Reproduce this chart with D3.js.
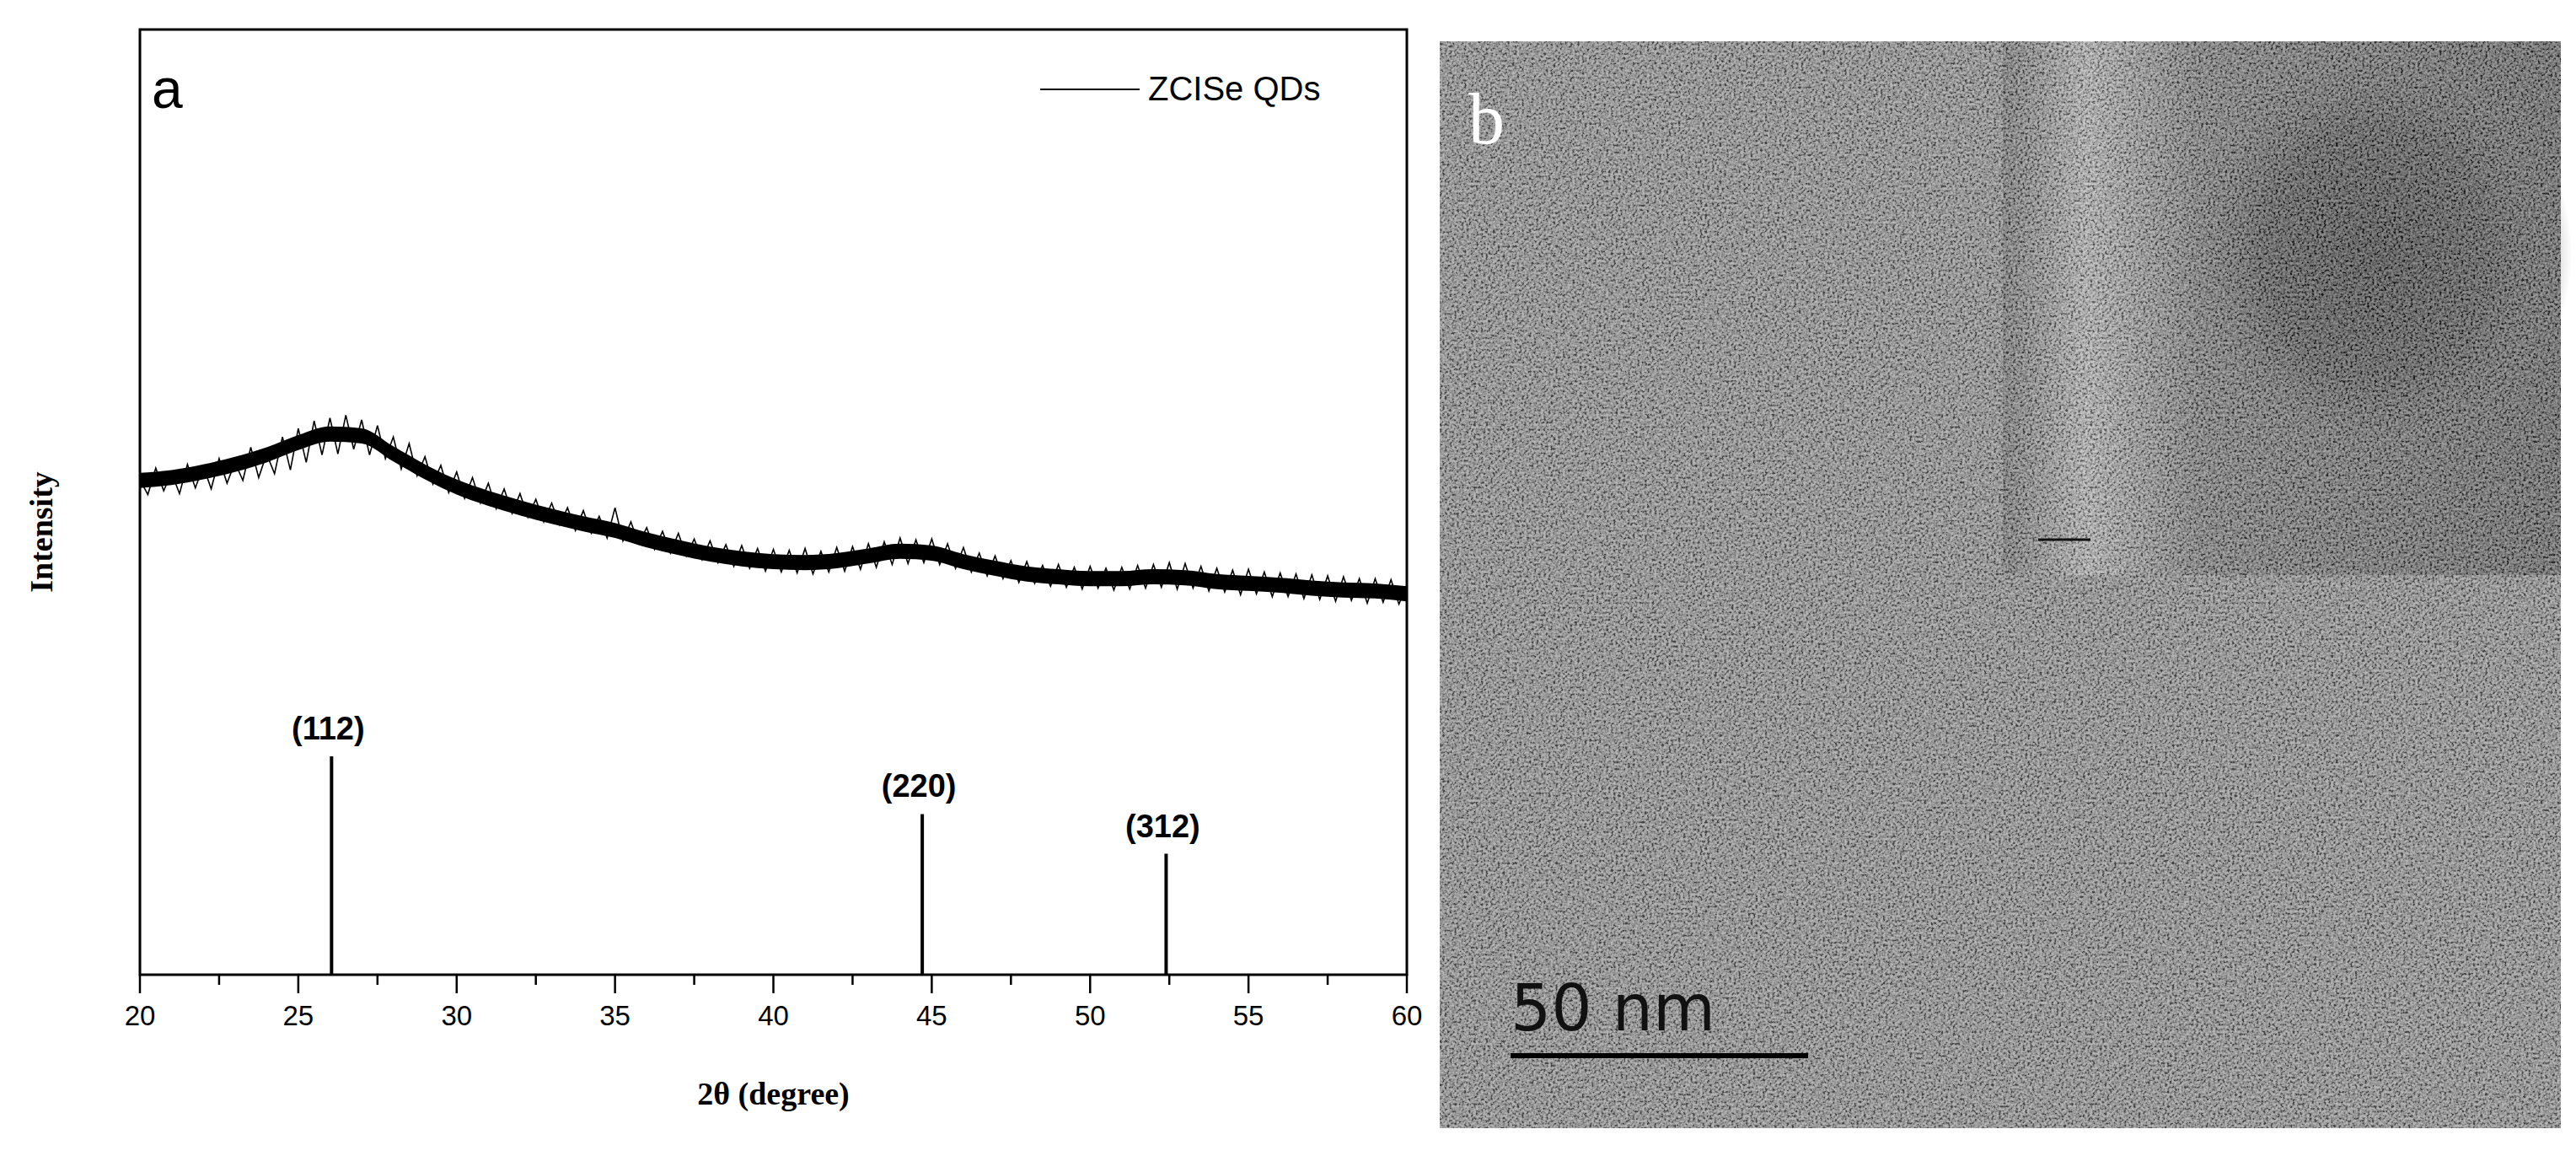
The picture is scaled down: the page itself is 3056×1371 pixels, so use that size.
<!DOCTYPE html>
<html><head><meta charset="utf-8">
<script src="https://cdn.jsdelivr.net/npm/d3@7"></script>
<style>body{margin:0;background:#fff}</style></head>
<body><svg id="c" width="3056" height="1371"></svg>
<script>
const xStart = 20, xStep = 0.25;
const intensity = [
52.4,50.8,53.6,51.2, 53.1,50.9,54.0,51.5, 53.8,51.4,54.6,52.0, 54.2,52.3,55.8,52.6,
55.1,53.0,56.9,53.4, 57.8,54.2,58.6,55.0, 58.9,55.1,59.2,55.6, 58.7,55.0,58.1,54.6,
56.9,53.5,56.2,52.8, 54.8,51.9,53.9,51.0, 53.2,50.4,52.6,49.9, 52.0,49.3,51.4,48.8,
50.9,48.4,50.3,47.9, 49.9,47.6,49.4,47.0, 49.1,46.7,48.5,46.2, 49.4,45.9,47.9,45.6,
47.3,45.0,46.9,44.6, 46.7,44.3,46.1,43.9, 45.9,43.6,45.5,43.2, 45.4,43.0,45.1,42.7,
45.0,42.6,44.9,42.5, 45.1,42.4,44.8,42.6, 45.2,42.7,45.3,42.9, 45.6,43.1,45.8,43.4,
46.2,43.5,46.0,43.6, 46.1,43.4,45.6,43.0, 45.2,42.6,44.6,42.2, 44.3,41.9,43.8,41.5,
43.7,41.4,43.3,41.1, 43.4,41.0,43.1,40.8, 43.2,40.9,43.0,40.7, 43.1,40.8,43.3,40.9,
43.4,41.0,43.6,40.8, 43.5,40.9,43.2,40.6, 43.0,40.5,42.8,40.2, 42.9,40.3,42.6,40.0,
42.5,40.0,42.4,39.8, 42.3,39.7,42.2,39.5, 42.1,39.6,41.9,39.3, 41.9,39.4,41.8,39.2,
41.2];
// dense noise band envelope, one value per degree 20..60
const bandUpper = [53.1,53.4,54.0,54.8,55.8,57.1,58.0,57.8,55.9,54.0,52.4,51.2,50.2,49.3,48.5,47.8,46.8,46.0,45.3,44.8,44.5,44.4,44.6,45.1,45.6,45.4,44.5,43.8,43.2,42.9,42.7,42.7,42.9,42.8,42.4,42.2,42.0,41.7,41.5,41.4,41.1];
const bandLower = [51.5,51.8,52.4,53.2,54.2,55.5,56.4,56.2,54.3,52.4,50.8,49.6,48.6,47.7,46.9,46.2,45.2,44.4,43.7,43.2,42.9,42.8,43.0,43.5,44.0,43.8,42.9,42.2,41.6,41.3,41.1,41.1,41.3,41.2,40.8,40.6,40.4,40.1,39.9,39.8,39.5];
const refPos = [26.05, 44.7, 52.4];
const refHeight = [23.1, 17.0, 12.8];
const refLabels = ["(112)", "(220)", "(312)"];
const xTicks = [20,25,30,35,40,45,50,55,60];

const svg = d3.select("#c");
const L=166,R=1669,T=35,B=1156;
const x = d3.scaleLinear().domain([20,60]).range([L,R]);
const y = d3.scaleLinear().domain([0,100]).range([B,T]);

svg.append("path").datum(bandUpper.map((u,i)=>({x:20+i,u:u,l:bandLower[i]})))
  .attr("fill","#000").attr("d", d3.area().curve(d3.curveMonotoneX).x(d=>x(d.x)).y0(d=>y(d.l)).y1(d=>y(d.u)));
const pts = intensity.map((v,i)=>[xStart+i*xStep, v]);
svg.append("path").datum(pts).attr("fill","none").attr("stroke","#000").attr("stroke-width",1.6)
  .attr("d", d3.line().x(d=>x(d[0])).y(d=>y(d[1])));

refPos.forEach((p,i)=>{
  svg.append("line").attr("x1",x(p)).attr("x2",x(p)).attr("y1",B).attr("y2",y(refHeight[i]))
    .attr("stroke","#000").attr("stroke-width",4);
  svg.append("text").attr("x",x(p)-4).attr("y",y(refHeight[i])-20).attr("text-anchor","middle")
    .attr("font-family","Liberation Sans, Arial").attr("font-weight","bold").attr("font-size",38).text(refLabels[i]);
});

svg.append("rect").attr("x",L).attr("y",T).attr("width",R-L).attr("height",B-T)
  .attr("fill","none").attr("stroke","#000").attr("stroke-width",3);

const minor = d3.range(20,60.01,2.5);
minor.forEach(t=>{
  const major = xTicks.includes(t);
  svg.append("line").attr("x1",x(t)).attr("x2",x(t)).attr("y1",B).attr("y2",B+(major?22:12))
    .attr("stroke","#000").attr("stroke-width",2.5);
});
xTicks.forEach(t=>{
  svg.append("text").attr("x",x(t)).attr("y",B+60).attr("text-anchor","middle")
    .attr("font-family","Liberation Sans, Arial").attr("font-size",33).text(t);
});
svg.append("text").attr("x",(L+R)/2).attr("y",1310).attr("text-anchor","middle")
  .attr("font-family","Liberation Serif, Times New Roman").attr("font-weight","bold").attr("font-size",38).text("2θ (degree)");
svg.append("text").attr("transform","translate(62,631) rotate(-90)").attr("text-anchor","middle")
  .attr("font-family","Liberation Serif, Times New Roman").attr("font-weight","bold").attr("font-size",38).text("Intensity");
svg.append("text").attr("x",180).attr("y",128).attr("font-family","Liberation Sans, Arial").attr("font-size",66).text("a");
svg.append("line").attr("x1",1234).attr("x2",1352).attr("y1",106).attr("y2",106).attr("stroke","#000").attr("stroke-width",2);
svg.append("text").attr("x",1362).attr("y",119).attr("font-family","Liberation Sans, Arial").attr("font-size",40).text("ZCISe QDs");

const defs = svg.append("defs");
const rg = defs.append("radialGradient").attr("id","blob");
rg.append("stop").attr("offset","0%").attr("stop-color","#222");
rg.append("stop").attr("offset","60%").attr("stop-color","#363636");
rg.append("stop").attr("offset","100%").attr("stop-color","#555").attr("stop-opacity",0);
const lg = defs.append("linearGradient").attr("id","inset").attr("x1","0").attr("x2","1");
lg.append("stop").attr("offset","0%").attr("stop-color","#5a5a5a");
lg.append("stop").attr("offset","15%").attr("stop-color","#a0a0a0");
lg.append("stop").attr("offset","35%").attr("stop-color","#606060");
lg.append("stop").attr("offset","100%").attr("stop-color","#444");
const f = defs.append("filter").attr("id","noise").attr("x",0).attr("y",0).attr("width","100%").attr("height","100%");
f.append("feTurbulence").attr("type","fractalNoise").attr("baseFrequency",0.35).attr("numOctaves",2).attr("result","n");
f.append("feColorMatrix").attr("type","matrix").attr("values","2.5 0 0 0 -0.75  2.5 0 0 0 -0.75  2.5 0 0 0 -0.75  0 0 0 0 0.45");
svg.append("rect").attr("x",1708).attr("y",49).attr("width",1330).attr("height",1289).attr("fill","#7a7a7a");
svg.append("rect").attr("x",2376).attr("y",49).attr("width",662).attr("height",633).attr("fill","url(#inset)");
svg.append("ellipse").attr("cx",2821).attr("cy",300).attr("rx",230).attr("ry",250).attr("fill","url(#blob)");
svg.append("rect").attr("x",1708).attr("y",49).attr("width",1330).attr("height",1289).attr("filter","url(#noise)");
svg.append("text").attr("x",1742).attr("y",170).attr("fill","#fff").attr("font-family","Liberation Serif, Times New Roman").attr("font-size",86).text("b");
svg.append("line").attr("x1",1792).attr("x2",2145).attr("y1",1252).attr("y2",1252).attr("stroke","#000").attr("stroke-width",6);
svg.append("text").attr("x",1792).attr("y",1222).attr("fill","#111").attr("font-family","DejaVu Sans").attr("font-size",76).text("50  nm");
svg.append("line").attr("x1",2418).attr("x2",2480).attr("y1",640).attr("y2",640).attr("stroke","#111").attr("stroke-width",3);
</script></body></html>
